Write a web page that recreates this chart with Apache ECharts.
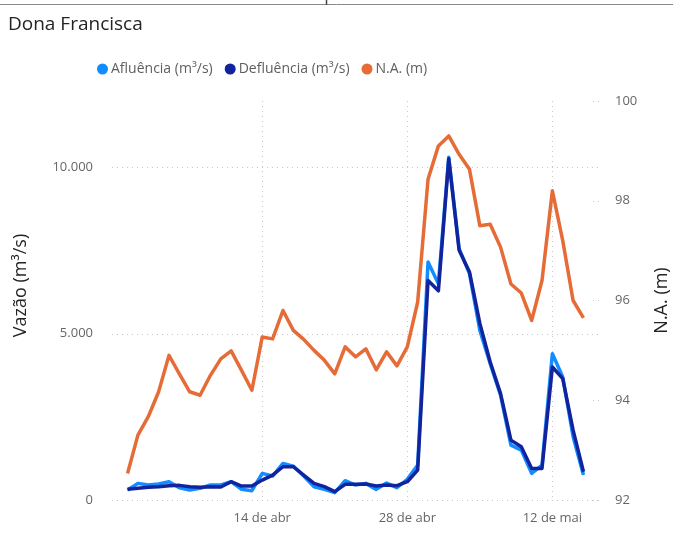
<!DOCTYPE html>
<html>
<head>
<meta charset="utf-8">
<script src="https://cdn.jsdelivr.net/npm/echarts@6/dist/echarts.min.js"></script>
<style>
  html, body { margin: 0; padding: 0; background: #fff; }
  #chart { width: 673px; height: 537px; }
</style>
</head>
<body>
<div id="chart"></div>
<script>
// dias (31 de mar e 16 de mai só dão margem ao eixo)
var dias = [
  '31 de mar',
  '1 de abr', '2 de abr', '3 de abr', '4 de abr', '5 de abr', '6 de abr', '7 de abr',
  '8 de abr', '9 de abr', '10 de abr', '11 de abr', '12 de abr', '13 de abr', '14 de abr',
  '15 de abr', '16 de abr', '17 de abr', '18 de abr', '19 de abr', '20 de abr', '21 de abr',
  '22 de abr', '23 de abr', '24 de abr', '25 de abr', '26 de abr', '27 de abr', '28 de abr',
  '29 de abr', '30 de abr', '1 de mai', '2 de mai', '3 de mai', '4 de mai', '5 de mai',
  '6 de mai', '7 de mai', '8 de mai', '9 de mai', '10 de mai', '11 de mai', '12 de mai',
  '13 de mai', '14 de mai', '15 de mai',
  '16 de mai'
]
var rotulosX = ['14 de abr', '28 de abr', '12 de mai']

// vazões (m³/s)
var afluencia = [
  null,
  300, 500, 450, 480, 550, 370, 300, 350, 450, 450, 550, 320, 280, 800,
  720, 1100, 1020, 720, 400, 320, 220, 580, 450, 500, 320, 510, 370, 620,
  1050, 7160, 6500, 10310, 7560, 6810, 5100, 4100, 3150, 1650, 1500, 800, 1050, 4400,
  3700, 1900, 750,
  null
]
var defluencia = [
  null,
  320, 350, 380, 400, 430, 440, 400, 380, 400, 390, 550, 420, 420, 600,
  750, 1000, 1000, 750, 500, 400, 250, 470, 470, 480, 420, 450, 430, 550,
  900, 6600, 6290, 10260, 7510, 6860, 5310, 4150, 3200, 1800, 1600, 950, 950, 4000,
  3650, 2100, 850,
  null
]
// nível d'água (m)
var nivel = [
  null,
  92.53, 93.30, 93.67, 94.17, 94.90, 94.53, 94.17, 94.10, 94.50, 94.83, 94.99, 94.60, 94.20, 95.27,
  95.23, 95.80, 95.40, 95.22, 95.00, 94.80, 94.53, 95.07, 94.87, 95.03, 94.61, 94.97, 94.69, 95.07,
  95.97, 98.43, 99.10, 99.30, 98.93, 98.63, 97.50, 97.53, 97.07, 96.33, 96.15, 95.60, 96.40, 98.20,
  97.20, 96.00, 95.65,
  null
]

var fonte = 'Open Sans, Noto Sans, sans-serif'
var cinza = '#666666'
var grade = '#c8c8c8'

function mostraData (i, valor) {
  return rotulosX.indexOf(valor) >= 0
}

function numeroBR (v) {
  return String(v).replace(/\B(?=(\d{3})+(?!\d))/g, '.')
}

var chart = echarts.init(document.getElementById('chart'))
chart.setOption({
  animation: false,
  textStyle: { fontFamily: fonte },
  color: ['#118DFF', '#12239E', '#E66C37'],
  title: {
    text: 'Dona Francisca',
    left: 3,
    top: 10,
    textStyle: { fontFamily: fonte, fontSize: 19, fontWeight: 'normal', color: '#252423' }
  },
  legend: {
    left: 92,
    top: 57,
    icon: 'circle',
    itemWidth: 11,
    itemHeight: 11,
    itemGap: 12,
    textStyle: { fontFamily: fonte, fontSize: 14, color: '#605E5C', padding: [0, 0, 0, -2] },
    data: ['Afluência (m³/s)', 'Defluência (m³/s)', 'N.A. (m)']
  },
  grid: { left: 112, right: 74, top: 101, bottom: 37, containLabel: false, outerBoundsMode: 'none' },
  xAxis: {
    type: 'category',
    data: dias,
    boundaryGap: true,
    axisLine: { show: false },
    axisTick: { show: false },
    axisLabel: {
      interval: mostraData,
      margin: 12,
      fontSize: 13,
      color: cinza,
      fontFamily: fonte
    },
    splitLine: {
      show: true,
      interval: mostraData,
      alignWithLabel: true,
      lineStyle: { color: grade, type: [1, 4], width: 1 }
    }
  },
  yAxis: [
    {
      type: 'value',
      min: 0,
      max: 12000,
      interval: 5000,
      name: 'Vazão (m³/s)',
      nameLocation: 'middle',
      nameRotate: 90,
      nameGap: 82,
      nameTextStyle: { fontFamily: fonte, fontSize: 18, color: '#252423', padding: [0, 0, 0, 30] },
      axisLine: { show: false },
      axisTick: { show: false },
      axisLabel: {
        margin: 19,
        fontSize: 13,
        color: cinza,
        fontFamily: fonte,
        showMaxLabel: false,
        formatter: numeroBR
      },
      splitLine: {
        show: true,
        showMaxLine: false,
        lineStyle: { color: grade, type: [1, 4], width: 1 }
      }
    },
    {
      type: 'value',
      min: 92,
      max: 100,
      interval: 2,
      position: 'right',
      name: 'N.A. (m)',
      nameLocation: 'middle',
      nameRotate: 90,
      nameGap: 54,
      nameTextStyle: { fontFamily: fonte, fontSize: 18, color: '#252423' },
      axisLine: { show: false },
      axisTick: {
        show: true,
        inside: true,
        length: 9,
        lineStyle: { color: grade, type: [1, 4], width: 1 }
      },
      axisLabel: { margin: 16, fontSize: 13, color: cinza, fontFamily: fonte },
      splitLine: { show: false }
    }
  ],
  series: [
    {
      name: 'Afluência (m³/s)',
      type: 'line',
      yAxisIndex: 0,
      data: afluencia,
      showSymbol: false,
      symbol: 'circle',
      lineStyle: { width: 3.5, join: 'round' }
    },
    {
      name: 'Defluência (m³/s)',
      type: 'line',
      yAxisIndex: 0,
      data: defluencia,
      showSymbol: false,
      symbol: 'circle',
      lineStyle: { width: 3.5, join: 'round' }
    },
    {
      name: 'N.A. (m)',
      type: 'line',
      yAxisIndex: 1,
      data: nivel,
      showSymbol: false,
      symbol: 'circle',
      lineStyle: { width: 3.5, join: 'round' }
    }
  ],
  graphic: [
    { type: 'line', shape: { x1: 0, y1: 4.5, x2: 673, y2: 4.5 }, style: { stroke: '#8a8a8a', lineWidth: 1 } },
    { type: 'line', shape: { x1: 326.5, y1: 0, x2: 326.5, y2: 5 }, style: { stroke: '#444', lineWidth: 1.5 } }
  ]
})
</script>
</body>
</html>
